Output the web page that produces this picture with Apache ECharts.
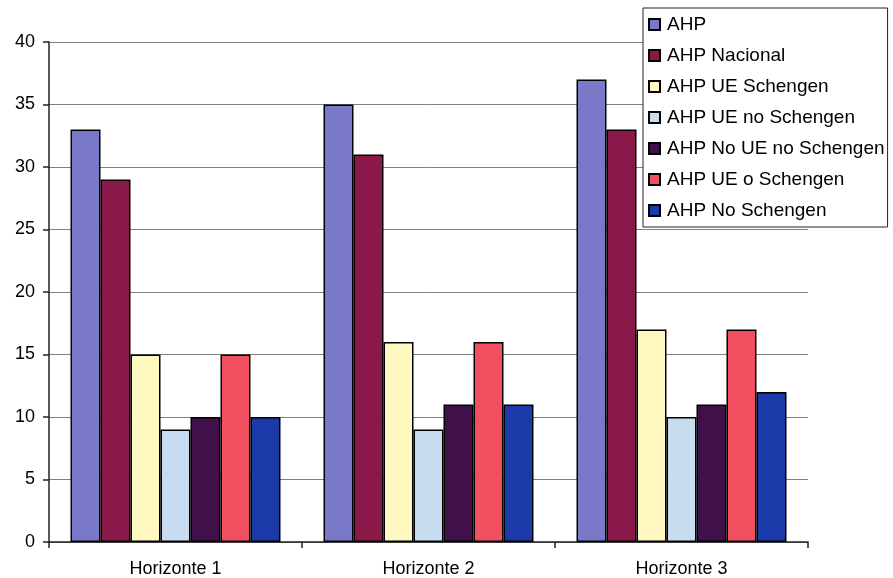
<!DOCTYPE html>
<html>
<head>
<meta charset="utf-8">
<script src="https://cdn.jsdelivr.net/npm/echarts@6/dist/echarts.min.js"></script>
<style>
  html, body { margin: 0; padding: 0; background: #ffffff; }
  #chart { width: 893px; height: 578px; }
</style>
</head>
<body>
<div id="chart"></div>
<script>
// Categories and series values
const categories = ['Horizonte 1', 'Horizonte 2', 'Horizonte 3'];
const seriesNames = [
  'AHP',
  'AHP Nacional',
  'AHP UE Schengen',
  'AHP UE no Schengen',
  'AHP No UE no Schengen',
  'AHP UE o Schengen',
  'AHP No Schengen'
];
const ahp = [33, 35, 37];
const ahpNacional = [29, 31, 33];
const ahpUeSchengen = [15, 16, 17];
const ahpUeNoSchengen = [9, 9, 10];
const ahpNoUeNoSchengen = [10, 11, 11];
const ahpUeOSchengen = [15, 16, 17];
const ahpNoSchengen = [10, 11, 12];
const seriesValues = [ahp, ahpNacional, ahpUeSchengen, ahpUeNoSchengen, ahpNoUeNoSchengen, ahpUeOSchengen, ahpNoSchengen];
const seriesColors = ['#7a78c8', '#8a1848', '#fff8c0', '#c8dcf0', '#40104a', '#f05060', '#1a3aa8'];

const font = '"Liberation Sans", Arial, sans-serif';
const chart = echarts.init(document.getElementById('chart'));

chart.setOption({
  backgroundColor: '#ffffff',
  animation: false,
  grid: { left: 49, right: 85, top: 42, bottom: 36 },
  legend: {
    orient: 'vertical',
    left: 643,
    top: 8,
    padding: [7, 3, 7, 5],
    itemWidth: 11,
    itemHeight: 11,
    itemGap: 12,
    icon: 'rect',
    backgroundColor: '#ffffff',
    borderColor: '#222222',
    borderWidth: 1,
    textStyle: { fontFamily: font, fontSize: 19, color: '#000000', padding: [0, 0, 0, 2] },
    data: seriesNames
  },
  xAxis: {
    type: 'category',
    data: categories,
    axisLine: { lineStyle: { color: '#222222', width: 1.5 } },
    axisTick: { show: true, length: 6, lineStyle: { color: '#222222', width: 1.5 } },
    axisLabel: { fontFamily: font, fontSize: 18, color: '#000000', margin: 18 },
    splitLine: { show: false }
  },
  yAxis: {
    type: 'value',
    min: 0,
    max: 40,
    interval: 5,
    axisLine: { show: true, lineStyle: { color: '#222222', width: 1.5 } },
    axisTick: { show: true, length: 6, lineStyle: { color: '#222222', width: 1.5 } },
    axisLabel: { fontFamily: font, fontSize: 18, color: '#000000', margin: 14 },
    splitLine: { show: true, lineStyle: { color: '#808080', width: 1 } }
  },
  series: seriesNames.map((name, i) => ({
    name: name,
    type: 'bar',
    data: seriesValues[i],
    barGap: '0%',
    barCategoryGap: '17%',
    itemStyle: { color: seriesColors[i], borderColor: '#000000', borderWidth: 1.5 }
  }))
});
</script>
</body>
</html>
